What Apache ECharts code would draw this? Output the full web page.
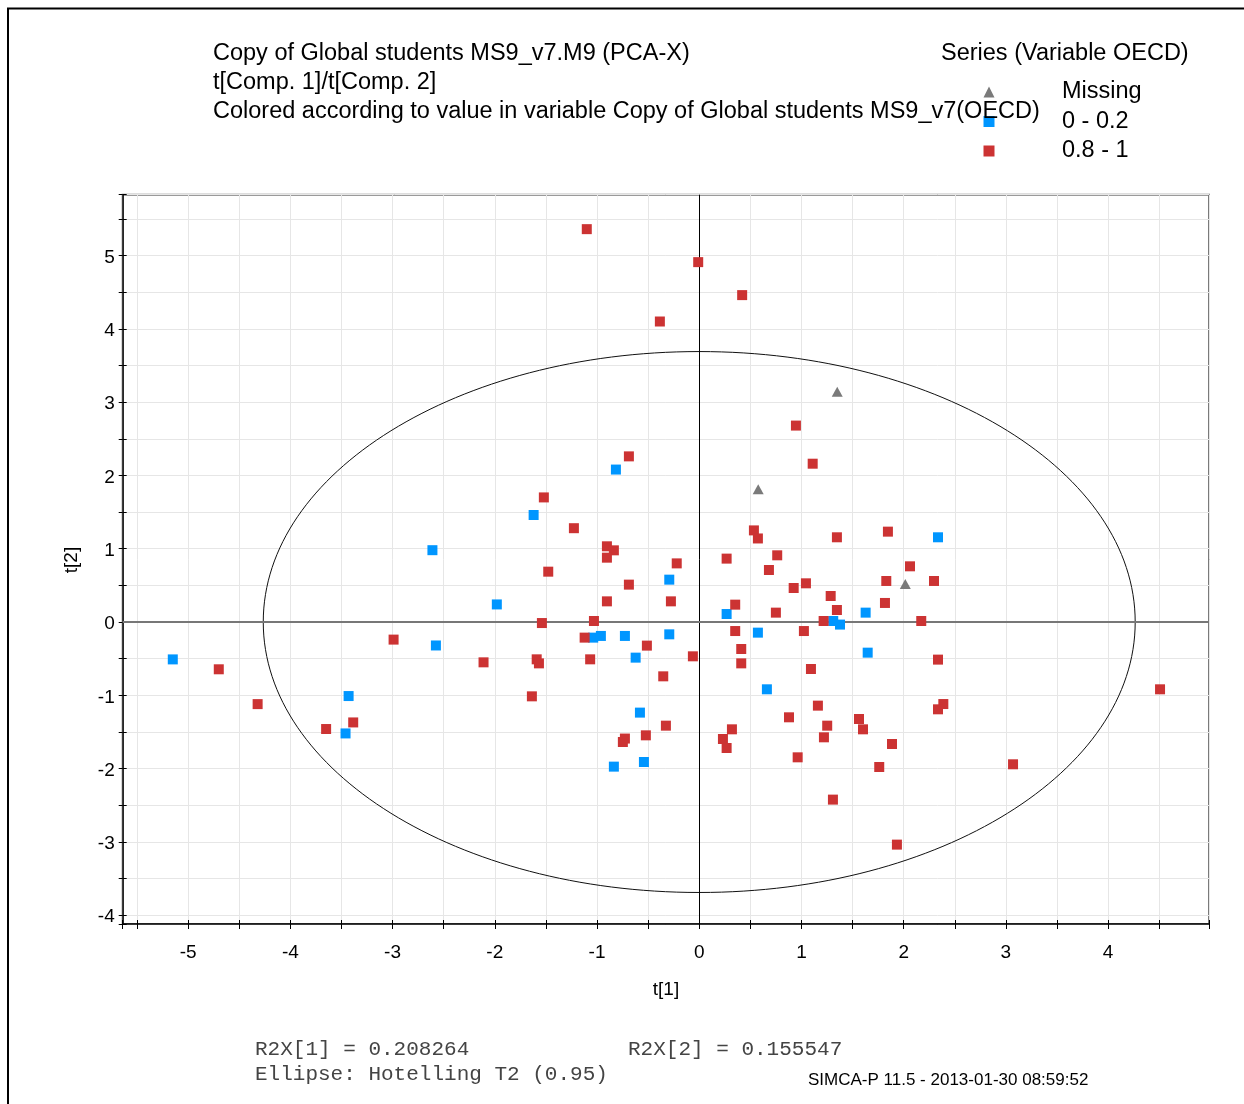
<!DOCTYPE html>
<html>
<head>
<meta charset="utf-8">
<script src="https://cdn.jsdelivr.net/npm/echarts@6/dist/echarts.min.js"></script>
<style>
html,body{margin:0;padding:0;background:#fff;}
#chart{width:1244px;height:1104px;}
</style>
</head>
<body>
<div id="chart"></div>
<script>
// ---- Data (t[1], t[2]) ----
const seriesNames = ['Missing', '0 - 0.2', '0.8 - 1'];

const missingPts = [
  [1.35, 3.14], [0.577, 1.81], [2.016, 0.52]
];

const bluePts = [
  [-0.815, 2.08], [-1.62, 1.46], [2.336, 1.156], [-2.61, 0.98], [-1.98, 0.24],
  [-5.15, -0.51], [-3.43, -1.01], [-3.46, -1.52], [-2.576, -0.32], [-0.293, 0.578],
  [0.268, 0.109], [1.628, 0.128], [1.311, 0.014], [1.377, -0.035], [-1.037, -0.213],
  [-0.962, -0.19], [-0.727, -0.19], [-0.293, -0.168], [0.574, -0.145], [1.648, -0.418],
  [-0.622, -0.486], [0.662, -0.918], [-0.58, -1.236], [-0.835, -1.973], [-0.541, -1.91]
];

const redPts = [
  [-1.10, 5.36], [-0.01, 4.91], [0.42, 4.46], [-0.385, 4.10], [0.946, 2.68],
  [1.11, 2.16], [-0.688, 2.26], [-1.52, 1.70], [-1.226, 1.28], [0.535, 1.25],
  [0.574, 1.14], [1.347, 1.156], [1.846, 1.233], [-4.70, -0.645], [-4.32, -1.12],
  [-3.65, -1.46], [-3.385, -1.37], [-2.99, -0.24], [-2.11, -0.55], [-0.903, 1.033],
  [-0.835, 0.978], [-0.903, 0.878], [0.268, 0.865], [0.763, 0.91], [-0.22, 0.80],
  [-1.477, 0.687], [0.682, 0.71], [-0.688, 0.51], [0.924, 0.464], [1.044, 0.528],
  [1.286, 0.355], [-0.903, 0.282], [-0.277, 0.282], [0.352, 0.237], [0.75, 0.128],
  [1.347, 0.164], [1.217, 0.014], [-1.539, -0.014], [-1.03, 0.014], [-1.121, -0.213],
  [0.352, -0.123], [1.024, -0.123], [-0.512, -0.322], [0.411, -0.368], [-1.59, -0.509],
  [-1.568, -0.564], [-1.067, -0.509], [-0.062, -0.468], [0.411, -0.564], [1.093, -0.641],
  [-0.352, -0.741], [-1.637, -1.014], [1.161, -1.141], [0.878, -1.30], [1.563, -1.323],
  [1.602, -1.464], [1.252, -1.414], [-0.326, -1.414], [0.32, -1.464], [-0.522, -1.546],
  [-0.727, -1.59], [-0.747, -1.637], [0.232, -1.596], [1.22, -1.573], [0.268, -1.719],
  [0.963, -1.846], [1.761, -1.978], [1.308, -2.423], [2.062, 0.76], [1.83, 0.56],
  [2.297, 0.56], [1.817, 0.26], [2.172, 0.014], [2.336, -0.513], [4.508, -0.918],
  [2.388, -1.119], [2.336, -1.191], [1.886, -1.664], [3.07, -1.941], [1.934, -3.037]
];

// Hotelling T2 (0.95) ellipse: centre and semi-axes
const ellipseParams = [[0, 0, 4.265, 3.69]];

// Axis ranges
const xRange = [-5.64, 4.987];
const yRange = [-4.12, 5.83];

// Texts
const titleLines = [
  'Copy of Global students MS9_v7.M9 (PCA-X)',
  't[Comp. 1]/t[Comp. 2]',
  'Colored according to value in variable Copy of Global students MS9_v7(OECD)'
];
const legendTitle = 'Series (Variable OECD)';
const xName = 't[1]';
const yName = 't[2]';
const noteLines = ['R2X[1] = 0.208264', 'R2X[2] = 0.155547', 'Ellipse: Hotelling T2 (0.95)'];
const stamp = 'SIMCA-P 11.5 - 2013-01-30 08:59:52';

// ---- Chart ----
const SANS = '"Liberation Sans", Arial, Helvetica, sans-serif';
const MONO = '"Liberation Mono", "Courier New", monospace';
const chart = echarts.init(document.getElementById('chart'), null, {renderer: 'canvas'});

const isInt = v => Math.abs(v - Math.round(v)) < 1e-6;
const intLabel = v => (isInt(v) ? String(Math.round(v)) : '');
const intLabelRich = v => (isInt(v) ? '{d|' + Math.round(v) + '}' : '');

function txt(text, x, y, font, fill, align) {
  return {
    type: 'text', silent: true, z: 100,
    style: {text: text, x: x, y: y, font: font, fill: fill || '#000',
      align: align || 'left', verticalAlign: 'middle',
      textAlign: align || 'left', textVerticalAlign: 'middle'}
  };
}

const axisCommon = {
  type: 'value', splitNumber: 20, minInterval: 0.5, maxInterval: 0.5
};

const option = {
  backgroundColor: '#fff',
  animation: false,
  textStyle: {fontFamily: SANS},
  grid: {
    left: 122.7, right: 35, top: 194.7, bottom: 180,
    show: true, borderColor: '#7a7a7a', borderWidth: 2, backgroundColor: '#fff'
  },
  legend: {
    orient: 'vertical', left: 983.5, top: 78, padding: 0,
    itemWidth: 11, itemHeight: 11, itemGap: 1.5,
    data: seriesNames,
    textStyle: {fontSize: 23.5, fontFamily: SANS, color: '#000', lineHeight: 24, padding: [4, 0, 0, 62.5]}
  },
  xAxis: [
    Object.assign({}, axisCommon, {
      min: xRange[0], max: xRange[1], position: 'bottom',
      axisLine: {show: true, onZero: false, lineStyle: {color: '#000', width: 1.5}},
      axisTick: {show: true, inside: false, length: 5, lineStyle: {color: '#000', width: 1}},
      axisLabel: {formatter: intLabel, margin: 19, fontSize: 19, color: '#000', fontFamily: SANS,
        showMinLabel: true, showMaxLabel: true},
      splitLine: {show: true, lineStyle: {color: '#e6e6e6', width: 1}}
    }),
    Object.assign({}, axisCommon, {
      min: xRange[0], max: xRange[1], position: 'bottom',
      axisLine: {show: false, onZero: false},
      axisTick: {show: true, inside: true, length: 4, lineStyle: {color: '#000', width: 1}},
      axisLabel: {show: false},
      splitLine: {show: false}
    })
  ],
  yAxis: [
    Object.assign({}, axisCommon, {
      min: yRange[0], max: yRange[1], position: 'left',
      axisLine: {show: true, onZero: false, lineStyle: {color: '#000', width: 1.5}},
      axisTick: {show: true, inside: false, length: 4, lineStyle: {color: '#000', width: 1}},
      axisLabel: {formatter: intLabelRich, margin: 8, fontSize: 19, color: '#000', fontFamily: SANS,
        rich: {d: {fontSize: 19, fontFamily: SANS, color: '#000', padding: [4, 0, 0, 0]}}},
      splitLine: {show: true, lineStyle: {color: '#e6e6e6', width: 1}}
    }),
    Object.assign({}, axisCommon, {
      min: yRange[0], max: yRange[1], position: 'left',
      axisLine: {show: false, onZero: false},
      axisTick: {show: true, inside: true, length: 4, lineStyle: {color: '#000', width: 1}},
      axisLabel: {show: false},
      splitLine: {show: false}
    })
  ],
  series: [
    {
      type: 'custom', name: 'ellipse', xAxisIndex: 0, yAxisIndex: 0,
      silent: true, z: 1, clip: true,
      data: ellipseParams,
      renderItem: function (params, api) {
        const c = api.coord([api.value(0), api.value(1)]);
        const px = api.coord([api.value(0) + api.value(2), api.value(1)]);
        const py = api.coord([api.value(0), api.value(1) + api.value(3)]);
        return {
          type: 'ellipse',
          shape: {cx: c[0], cy: c[1], rx: Math.abs(px[0] - c[0]), ry: Math.abs(c[1] - py[1])},
          style: {fill: 'none', stroke: '#111', lineWidth: 1}
        };
      },
      markLine: {
        silent: true, symbol: 'none', animation: false,
        label: {show: false},
        data: [
          {xAxis: 0, lineStyle: {color: '#000', width: 1, type: 'solid'}},
          {yAxis: 0, lineStyle: {color: '#777', width: 2, type: 'solid'}}
        ]
      }
    },
    {
      type: 'scatter', name: seriesNames[0], data: missingPts, z: 5,
      symbol: 'triangle', symbolSize: [11, 10],
      itemStyle: {color: '#7a7a7a', opacity: 1}
    },
    {
      type: 'scatter', name: seriesNames[1], data: bluePts, z: 5,
      symbol: 'rect', symbolSize: 10,
      itemStyle: {color: '#0096ff', opacity: 1}
    },
    {
      type: 'scatter', name: seriesNames[2], data: redPts, z: 5,
      symbol: 'rect', symbolSize: 10,
      itemStyle: {color: '#cc3333', opacity: 1}
    }
  ],
  graphic: [
    {type: 'rect', silent: true, z: 100, shape: {x: 8, y: 8.5, width: 1400, height: 1300},
      style: {fill: 'none', stroke: '#000', lineWidth: 2}},
    txt(titleLines[0], 213, 54, '23.5px ' + SANS),
    txt(titleLines[1], 213, 83, '23.5px ' + SANS),
    txt(titleLines[2], 213, 112, '23.5px ' + SANS),
    txt(legendTitle, 941, 54, '23.5px ' + SANS),
    txt(xName, 666, 990, '19px ' + SANS, '#000', 'center'),
    {
      type: 'text', silent: true, z: 100, x: 72, y: 560, rotation: Math.PI / 2,
      style: {text: yName, x: 0, y: 0, font: '19px ' + SANS, fill: '#000',
        align: 'center', verticalAlign: 'middle', textAlign: 'center', textVerticalAlign: 'middle'}
    },
    txt(noteLines[0], 255, 1049, '21px ' + MONO, '#444'),
    txt(noteLines[1], 628, 1049, '21px ' + MONO, '#444'),
    txt(noteLines[2], 255, 1074, '21px ' + MONO, '#444'),
    txt(stamp, 808, 1080, '17px ' + SANS)
  ]
};

chart.setOption(option);
</script>
</body>
</html>
